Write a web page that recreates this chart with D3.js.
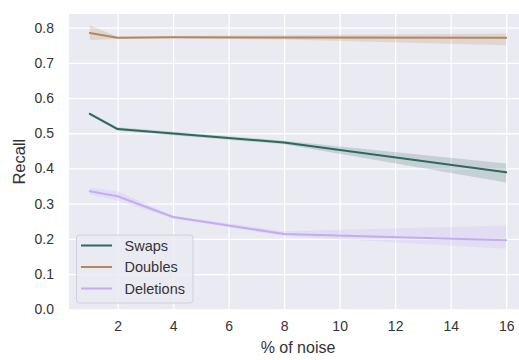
<!DOCTYPE html>
<html>
<head>
<meta charset="utf-8">
<script src="https://cdn.jsdelivr.net/npm/d3@7"></script>
<style>
html,body{margin:0;padding:0;background:#fff;overflow:hidden;}
svg{display:block;font-family:"Liberation Sans",Arial,sans-serif;}
</style>
</head>
<body>
<svg id="chart" width="519" height="360"></svg>
<script>
const xValues = [1, 2, 4, 8, 16];
const seriesNames = ["Swaps", "Doubles", "Deletions"];
const swapsMean = [0.555, 0.512, 0.499, 0.474, 0.389];
const swapsLow  = [0.551, 0.507, 0.494, 0.469, 0.360];
const swapsHigh = [0.559, 0.517, 0.504, 0.479, 0.414];
const doublesMean = [0.785, 0.771, 0.773, 0.772, 0.771];
const doublesLow  = [0.765, 0.768, 0.770, 0.766, 0.750];
const doublesHigh = [0.807, 0.774, 0.776, 0.778, 0.783];
const deletionsMean = [0.335, 0.321, 0.262, 0.214, 0.196];
const deletionsLow  = [0.326, 0.309, 0.258, 0.208, 0.172];
const deletionsHigh = [0.345, 0.335, 0.266, 0.222, 0.238];
const xTicks = [2, 4, 6, 8, 10, 12, 14, 16];
const yTicks = [0.0, 0.1, 0.2, 0.3, 0.4, 0.5, 0.6, 0.7, 0.8];
const colors = ["#2d6a5d", "#b5875a", "#c3acf4"];

const series = [
  {name: seriesNames[0], mean: swapsMean, low: swapsLow, high: swapsHigh, color: colors[0]},
  {name: seriesNames[1], mean: doublesMean, low: doublesLow, high: doublesHigh, color: colors[1]},
  {name: seriesNames[2], mean: deletionsMean, low: deletionsLow, high: deletionsHigh, color: colors[2]}
];

const svg = d3.select("#chart");
const L = 69, T = 14, R = 527, B = 309.3;
const x = d3.scaleLinear().domain([0.25, 16.75]).range([L, R]);
const y = d3.scaleLinear().domain([0, 0.8387]).range([B, T]);

svg.append("rect").attr("x", L).attr("y", T).attr("width", R - L).attr("height", B - T).attr("fill", "#eaeaf2");

// grid
const gx = svg.append("g").attr("transform", `translate(0,${B})`)
  .call(d3.axisBottom(x).tickValues(xTicks).tickSize(-(B - T)).tickPadding(12).tickFormat(d3.format("d")));
const gy = svg.append("g").attr("transform", `translate(${L},0)`)
  .call(d3.axisLeft(y).tickValues(yTicks).tickSize(-(R - L)).tickPadding(15).tickFormat(d3.format(".1f")));
[gx, gy].forEach(g => {
  g.select(".domain").remove();
  g.selectAll(".tick line").attr("stroke", "#ffffff").attr("stroke-width", 1.3);
  g.selectAll(".tick text").attr("fill", "#333333").attr("font-size", "14px");
});

const clip = svg.append("clipPath").attr("id", "clip").append("rect")
  .attr("x", L).attr("y", T).attr("width", R - L).attr("height", B - T);
const plot = svg.append("g").attr("clip-path", "url(#clip)");

series.forEach(s => {
  const pts = xValues.map((xv, i) => ({x: xv, m: s.mean[i], lo: s.low[i], hi: s.high[i]}));
  plot.append("path").datum(pts)
    .attr("d", d3.area().x(d => x(d.x)).y0(d => y(d.lo)).y1(d => y(d.hi)))
    .attr("fill", s.color).attr("fill-opacity", 0.2).attr("stroke", "none");
  plot.append("path").datum(pts)
    .attr("d", d3.line().x(d => x(d.x)).y(d => y(d.m)))
    .attr("fill", "none").attr("stroke", s.color).attr("stroke-width", 2)
    .attr("stroke-linecap", "round").attr("stroke-linejoin", "round");
});

// axis labels
svg.append("text").attr("x", (L + R) / 2).attr("y", 353).attr("text-anchor", "middle")
  .attr("font-size", "16px").attr("fill", "#333333").text("% of noise");
svg.append("text").attr("transform", `translate(25,${(T + B) / 2}) rotate(-90)`).attr("text-anchor", "middle")
  .attr("font-size", "16.5px").attr("fill", "#333333").text("Recall");

// legend
const lg = svg.append("g");
lg.append("rect").attr("x", 76.5).attr("y", 235).attr("width", 116.5).attr("height", 68)
  .attr("rx", 3).attr("fill", "#eaeaf2").attr("fill-opacity", 0.8).attr("stroke", "#d0d0d8").attr("stroke-width", 1);
series.forEach((s, i) => {
  const yy = 245.5 + i * 21.5;
  lg.append("line").attr("x1", 81).attr("x2", 112).attr("y1", yy).attr("y2", yy)
    .attr("stroke", s.color).attr("stroke-width", 2);
  lg.append("text").attr("x", 124.5).attr("y", yy + 5).attr("font-size", "14.5px").attr("fill", "#333333").text(s.name);
});
</script>
</body>
</html>
